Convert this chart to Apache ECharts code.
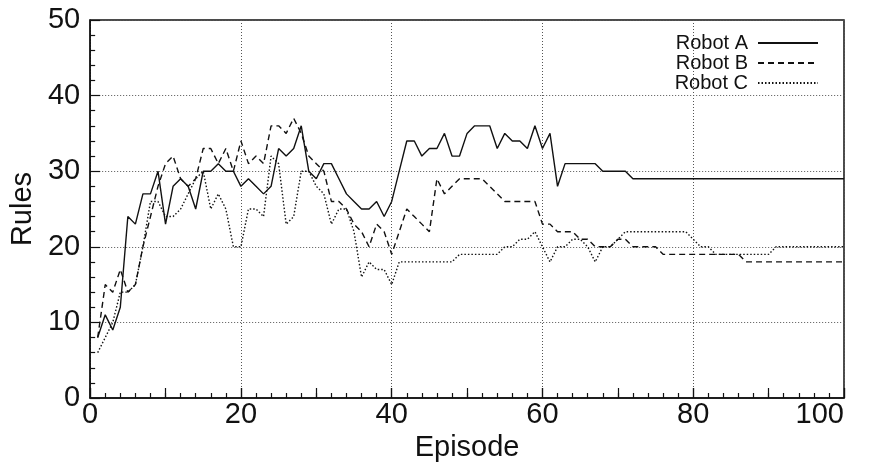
<!DOCTYPE html>
<html>
<head>
<meta charset="utf-8">
<script src="https://cdn.jsdelivr.net/npm/echarts@6/dist/echarts.min.js"></script>
<style>
  html, body { margin: 0; padding: 0; background: #fff; }
  #chart { width: 870px; height: 470px; }
</style>
</head>
<body>
<div id="chart"></div>
<script>
// Rules learned per episode for three robots
const episodes = Array.from({ length: 100 }, (_, i) => i + 1);

const robotA = [
  8, 11, 9, 12, 24, 23, 27, 27, 30, 23,
  28, 29, 28, 25, 30, 30, 31, 30, 30, 28,
  29, 28, 27, 28, 33, 32, 33, 36, 30, 29,
  31, 31, 29, 27, 26, 25, 25, 26, 24, 26,
  30, 34, 34, 32, 33, 33, 35, 32, 32, 35,
  36, 36, 36, 33, 35, 34, 34, 33, 36, 33,
  35, 28, 31, 31, 31, 31, 31, 30, 30, 30,
  30, 29, 29, 29, 29, 29, 29, 29, 29, 29,
  29, 29, 29, 29, 29, 29, 29, 29, 29, 29,
  29, 29, 29, 29, 29, 29, 29, 29, 29, 29
];

const robotB = [
  8, 15, 14, 17, 14, 15, 20, 24, 28, 31,
  32, 29, 28, 29, 33, 33, 31, 33, 30, 34,
  31, 32, 31, 36, 36, 35, 37, 35, 32, 31,
  30, 26, 26, 25, 23, 22, 20, 23, 22, 19,
  22, 25, 24, 23, 22, 29, 27, 28, 29, 29,
  29, 29, 28, 27, 26, 26, 26, 26, 26, 23,
  23, 22, 22, 22, 21, 21, 20, 20, 20, 21,
  21, 20, 20, 20, 20, 19, 19, 19, 19, 19,
  19, 19, 19, 19, 19, 19, 18, 18, 18, 18,
  18, 18, 18, 18, 18, 18, 18, 18, 18, 18
];

const robotC = [
  6, 8, 10, 14, 14, 15, 20, 26, 26, 24,
  24, 25, 27, 29, 30, 25, 27, 25, 20, 20,
  25, 25, 24, 32, 31, 23, 24, 30, 30, 28,
  27, 23, 25, 25, 22, 16, 18, 17, 17, 15,
  18, 18, 18, 18, 18, 18, 18, 18, 19, 19,
  19, 19, 19, 19, 20, 20, 21, 21, 22, 20,
  18, 20, 20, 21, 21, 20, 18, 20, 20, 21,
  22, 22, 22, 22, 22, 22, 22, 22, 22, 21,
  20, 20, 19, 19, 19, 19, 19, 19, 19, 19,
  20, 20, 20, 20, 20, 20, 20, 20, 20, 20
];

const seriesNames = ['Robot A', 'Robot B', 'Robot C'];
const xTicks = [0, 20, 40, 60, 80, 100];
const yTicks = [0, 10, 20, 30, 40, 50];

const FONT = 'Liberation Sans, Arial, Helvetica, sans-serif';
const INK = '#111';

function pairs(values) {
  return episodes.map((e, i) => [e, values[i]]);
}

const chart = echarts.init(document.getElementById('chart'), null, { renderer: 'canvas' });

const gridLine = { show: true, lineStyle: { color: '#555', width: 1, type: [1, 2] } };

chart.setOption({
  animation: false,
  backgroundColor: '#fff',
  grid: {
    left: 90, right: 26, top: 20, bottom: 72,
    show: true, borderColor: INK, borderWidth: 1.5, backgroundColor: 'transparent'
  },
  legend: {
    data: seriesNames,
    orient: 'vertical',
    right: 46,
    top: 28,
    align: 'right',
    itemWidth: 60,
    itemHeight: 14,
    itemGap: 0,
    itemStyle: { opacity: 0, borderWidth: 0 },
    textStyle: { fontFamily: FONT, fontSize: 20, color: INK, lineHeight: 19.5, padding: [0, 5, 0, 0] },
    inactiveColor: INK
  },
  xAxis: [
    {
      type: 'value', min: xTicks[0], max: xTicks[xTicks.length - 1], interval: 20,
      name: 'Episode', nameLocation: 'middle', nameGap: 33,
      nameTextStyle: { fontFamily: FONT, fontSize: 29, color: INK },
      axisLine: { show: true, lineStyle: { color: INK, width: 1.5 } },
      axisTick: { show: true, inside: true, length: 10, lineStyle: { color: INK, width: 1.2 } },
      minorTick: { show: true, splitNumber: 10, length: 5, lineStyle: { color: INK, width: 1.2 } },
      axisLabel: { fontFamily: FONT, fontSize: 29, color: INK, margin: 2, alignMaxLabel: 'right' },
      splitLine: gridLine
    },
    {
      type: 'value', min: 0, max: 100, interval: 10, position: 'bottom',
      axisLine: { show: false },
      axisTick: { show: true, inside: true, length: 10, lineStyle: { color: INK, width: 1.2 } },
      axisLabel: { show: false },
      splitLine: { show: false }
    }
  ],
  yAxis: {
    type: 'value', min: yTicks[0], max: yTicks[yTicks.length - 1], interval: 10,
    name: 'Rules', nameLocation: 'middle', nameGap: 47,
    nameTextStyle: { fontFamily: FONT, fontSize: 29, color: INK },
    axisLine: { show: true, lineStyle: { color: INK, width: 1.5 } },
    axisTick: { show: true, inside: true, length: 10, lineStyle: { color: INK, width: 1.2 } },
    minorTick: { show: true, splitNumber: 5, length: 5, lineStyle: { color: INK, width: 1.2 } },
    axisLabel: { fontFamily: FONT, fontSize: 29, color: INK, margin: 10 },
    splitLine: gridLine
  },
  series: [
    {
      name: seriesNames[0], type: 'line', data: pairs(robotA),
      symbol: 'none', color: INK,
      lineStyle: { color: INK, width: 1.4, type: 'solid' }
    },
    {
      name: seriesNames[1], type: 'line', data: pairs(robotB),
      symbol: 'none', color: INK,
      lineStyle: { color: INK, width: 1.4, type: [6, 4] }
    },
    {
      name: seriesNames[2], type: 'line', data: pairs(robotC),
      symbol: 'none', color: INK,
      lineStyle: { color: INK, width: 1.4, type: [1.5, 2] }
    }
  ]
});
</script>
</body>
</html>
